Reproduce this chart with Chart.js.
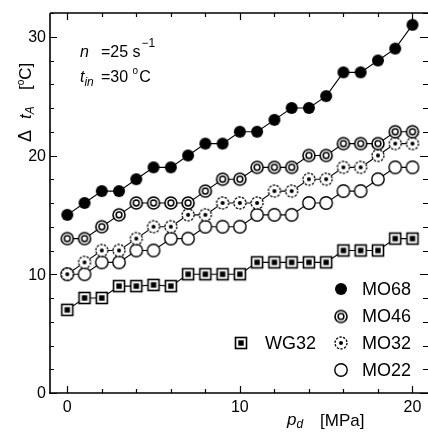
<!DOCTYPE html>
<html><head><meta charset="utf-8">
<script src="https://cdn.jsdelivr.net/npm/chart.js@4/dist/chart.umd.min.js"></script>
<style>html,body{margin:0;padding:0;background:#fff;overflow:hidden}</style>
</head><body>
<canvas id="c" width="428" height="433" style="width:428px;height:433px;display:block"></canvas>
<script>
// ---- data ----
const pressure = [0,1,2,3,4,5,6,7,8,9,10,11,12,13,14,15,16,17,18,19,20];
const mo68 = [15,16,17,17,18,19,19,20,21,21,22,22,23,24,24,25,27,27,28,29,31];
const mo46 = [13,13,14,15,16,16,16,16,17,18,18,19,19,19,20,20,21,21,21,22,22];
const mo32 = [10,11,12,12,13,14,14,15,15,16,16,16,17,17,18,18,19,19,20,21,21];
const mo22 = [10,10,11,11,12,12,13,13,14,14,14,15,15,15,16,16,17,17,18,19,19];
const wg32 = [7,8,8,9,9,9.1,9,10,10,10,10,11,11,11,11,11,12,12,12,13,13];
const xTicks = [0,10,20];
const yTicks = [0,10,20,30];
const seriesNames = ['MO68','MO46','MO32','MO22','WG32'];

// ---- markers ----
function mk(draw){const c=document.createElement('canvas');c.width=c.height=16;const g=c.getContext('2d');g.translate(8,8);draw(g);return c;}
const mFilled = mk(g=>{g.beginPath();g.arc(0,0,6,0,7);g.fillStyle='#000';g.fill();});
const mDouble = mk(g=>{g.beginPath();g.arc(0,0,6,0,7);g.fillStyle='#fff';g.fill();g.lineWidth=1.6;g.strokeStyle='#000';g.stroke();g.beginPath();g.arc(0,0,2.9,0,7);g.lineWidth=1.5;g.stroke();});
const mDot = mk(g=>{g.beginPath();g.arc(0,0,6,0,7);g.fillStyle='#fff';g.fill();g.setLineDash([2.4,1.3]);g.lineWidth=1.3;g.strokeStyle='#000';g.stroke();g.setLineDash([]);g.beginPath();g.arc(0,0,2,0,7);g.fillStyle='#000';g.fill();});
const mOpen = mk(g=>{g.beginPath();g.arc(0,0,6.2,0,7);g.fillStyle='#fff';g.fill();g.lineWidth=1.4;g.strokeStyle='#000';g.stroke();});
const mSquare = mk(g=>{g.fillStyle='#fff';g.fillRect(-5.5,-5.5,11,11);g.lineWidth=1.6;g.strokeStyle='#000';g.strokeRect(-5.5,-5.5,11,11);g.fillStyle='#000';g.fillRect(-2.7,-2.7,5.4,5.4);});
const markers = [mFilled,mDouble,mDot,mOpen,mSquare];
const values = [mo68,mo46,mo32,mo22,wg32];

function ds(i){
  return {label:seriesNames[i], data:pressure.map((x,k)=>({x:x,y:values[i][k]})),
    showLine:true, borderColor:'#000', borderWidth:1.1, pointStyle:markers[i], pointRadius:6, pointHoverRadius:6, tension:0, clip:false};
}

function runs(ctx,x,y,list){
  let cx=x;
  for(const r of list){ctx.font=r.f;ctx.fillText(r.t,cx+(r.dx||0),y+(r.dy||0));cx+=ctx.measureText(r.t).width+(r.dx||0);}
}

const deco = {
  id:'deco',
  afterDraw(chart){
    const ctx=chart.ctx, a=chart.chartArea, xs=chart.scales.x, ys=chart.scales.y;
    ctx.save();
    ctx.strokeStyle='#000';ctx.fillStyle='#000';
    // frame (right edge lies just outside the picture)
    ctx.lineWidth=1.6;
    ctx.beginPath();
    ctx.moveTo(a.left,a.top);ctx.lineTo(a.right,a.top);
    ctx.moveTo(a.left,a.top);ctx.lineTo(a.left,a.bottom);
    ctx.moveTo(a.left-1,a.bottom);ctx.lineTo(a.right,a.bottom);
    ctx.stroke();
    // ticks
    ctx.lineWidth=1.2;
    ctx.beginPath();
    for(let v=0;v<=20;v+=2){const p=Math.round(xs.getPixelForValue(v))+0.5;const L=(v%10===0)?7:4;
      ctx.moveTo(p,a.bottom);ctx.lineTo(p,a.bottom-L);ctx.moveTo(p,a.top);ctx.lineTo(p,a.top+L);}
    for(let v=0;v<=32;v+=2){const p=Math.round(ys.getPixelForValue(v))+0.5;const L=(v%10===0)?7:4;
      ctx.moveTo(a.left,p);ctx.lineTo(a.left+L,p);ctx.moveTo(a.right,p);ctx.lineTo(a.right-L-1,p);}
    ctx.stroke();
    // tick labels
    ctx.font='16px "Liberation Sans", Arial, sans-serif';
    ctx.textBaseline='middle';
    ctx.textAlign='right';
    for(const v of yTicks){ctx.fillText(String(v),a.left-4,ys.getPixelForValue(v)+1);}
    ctx.textAlign='center';
    for(const v of xTicks){ctx.fillText(String(v),xs.getPixelForValue(v),a.bottom+15);}
    ctx.textAlign='left';ctx.textBaseline='alphabetic';
    const F='"Liberation Sans", Arial, sans-serif';
    // x title
    runs(ctx,287,425,[{t:'p',f:'italic 17px '+F},{t:'d',f:'italic 12px '+F,dy:3}]);
    runs(ctx,320,426,[{t:'[MPa]',f:'17px '+F}]);
    // y title (rotated)
    ctx.save();ctx.translate(31,142);ctx.rotate(-Math.PI/2);
    runs(ctx,0,0,[{t:'\u0394',f:'18px '+F}]);
    runs(ctx,23,0,[{t:'t',f:'italic 17px '+F},{t:'A',f:'italic 12px '+F,dy:3}]);
    runs(ctx,52,0,[{t:'[',f:'17px '+F},{t:'o',f:'10px '+F,dy:-7},{t:'C]',f:'17px '+F}]);
    ctx.restore();
    // annotation
    runs(ctx,80,57,[{t:'n',f:'italic 16px '+F}]);
    runs(ctx,101,57,[{t:'=25 s',f:'16px '+F},{t:'\u22121',f:'12px '+F,dy:-10,dx:1}]);
    runs(ctx,80,82,[{t:'t',f:'italic 16px '+F},{t:'in',f:'italic 12px '+F,dy:4}]);
    runs(ctx,101,82,[{t:'=30 ',f:'16px '+F},{t:'o',f:'10px '+F,dy:-8},{t:'C',f:'16px '+F,dx:1}]);
    // legend
    const rows=[289,316.5,343,370];
    ctx.font='18px '+F;ctx.textBaseline='middle';
    for(let i=0;i<4;i++){
      ctx.drawImage(markers[i],341-8,rows[i]-8);
      ctx.fillText(seriesNames[i],362,rows[i]+1);
    }
    ctx.drawImage(markers[4],241-8,343-8);
    ctx.fillText(seriesNames[4],265,344);
    ctx.restore();
  }
};

new Chart(document.getElementById('c'),{
  type:'scatter',
  data:{datasets:[0,1,2,3,4].map(ds)},
  options:{
    responsive:false, animation:false, devicePixelRatio:1,
    layout:{autoPadding:false,padding:{top:13,right:0,left:0,bottom:0}},
    plugins:{legend:{display:false},tooltip:{enabled:false}},
    scales:{
      x:{type:'linear',min:-1,max:20.9,grid:{display:false},border:{display:false},ticks:{display:false},
        afterBuildTicks(s){s.ticks=xTicks.map(v=>({value:v}));},afterFit(s){s.height=40;}},
      y:{type:'linear',min:0,max:32,grid:{display:false},border:{display:false},ticks:{display:false},
        afterBuildTicks(s){s.ticks=yTicks.map(v=>({value:v}));},afterFit(s){s.width=50;}}
    }
  },
  plugins:[deco]
});
</script>
</body></html>
